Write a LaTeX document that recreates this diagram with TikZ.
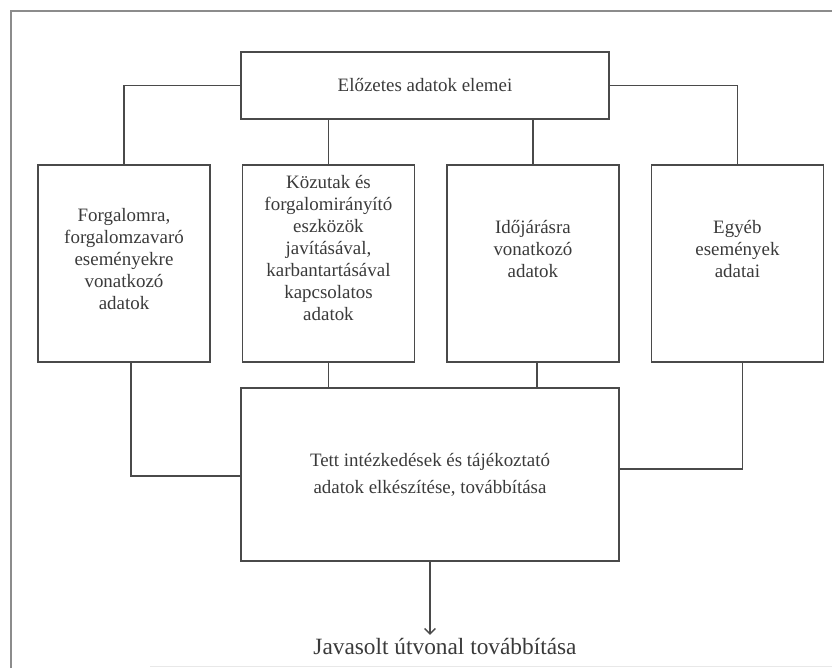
\documentclass[tikz,border=0pt]{standalone}
\usepackage{fontspec}
\setmainfont{Liberation Serif}
\usetikzlibrary{arrows.meta,positioning}
\definecolor{linegray}{HTML}{4A4A4A}
\definecolor{framegray}{HTML}{8C8C8C}
\definecolor{textgray}{HTML}{3A3A3A}
\tikzstyle{databox}=[
	rectangle,
	draw=linegray,
	line width=1.1pt,
	inner sep=0pt,
	minimum width=129pt,
	minimum height=147.75pt,
	node distance=0pt and 23.25pt
]
\tikzstyle{widebox}=[
	rectangle,
	draw=linegray,
	line width=1.1pt,
	align=center,
	text=textgray,
	font=\fontsize{14.2}{20.25}\selectfont
]
\tikzstyle{boxtext}=[
	align=center,
	text=textgray,
	inner sep=0pt,
	font=\fontsize{14.2}{16.5}\selectfont
]
\tikzstyle{link}=[
	draw=linegray,
	line width=1.1pt
]

\begin{document}
\begin{tikzpicture}[x=0.75pt,y=-0.75pt]
\useasboundingbox (0,0) rectangle (832,668);
% frame
\draw[framegray, line width=1.8pt] (11,668) -- (11,11) -- (832,11);
\draw[framegray!20, line width=0.6pt] (150,666.5) -- (832,666.5);

\node [widebox, minimum width=276pt, minimum height=50.25pt] (elozetes) at (425,85.5) {Előzetes adatok elemei};

\node [databox] (forgalom) at (124,263.5) {};
\node [databox] (kozutak)[right=of forgalom] {};
\node [databox] (idojaras)[right=of kozutak] {};
\node [databox] (egyeb)[right=of idojaras] {};

\node [boxtext] (forgalomtxt) at ([yshift=3pt]forgalom.center) {Forgalomra,\\ forgalomzavaró\\ eseményekre\\ vonatkozó\\ adatok};
\node [boxtext] (kozutaktxt) at ([yshift=11.25pt]kozutak.center) {Közutak és\\ forgalomirányító\\ eszközök\\ javításával,\\ karbantartásával\\ kapcsolatos\\ adatok};
\node [boxtext] (idojarastxt) at ([yshift=10.5pt]idojaras.center) {Időjárásra\\ vonatkozó\\ adatok};
\node [boxtext] (egyebtxt) at ([yshift=10.5pt]egyeb.center) {Egyéb\\ események\\ adatai};

\node [widebox, minimum width=283.5pt, minimum height=129.75pt] (intezkedes) at (430,474.5) {Tett intézkedések és tájékoztató\\ adatok elkészítése, továbbítása};

\node [text=textgray, font=\fontsize{17.5}{20}\selectfont, inner sep=2pt] (utvonal) at (445,646) {Javasolt útvonal továbbítása};

% connectors
\draw[link] (elozetes.west) -| (forgalom.north);
\draw[link] (elozetes.east) -| (egyeb.north);
\draw[link] (kozutak.north) -- (kozutak.north |- elozetes.south);
\draw[link] (idojaras.north) -- (idojaras.north |- elozetes.south);
\draw[link] ([xshift=5.25pt]forgalom.south) |- ([yshift=-1pt]intezkedes.west);
\draw[link] (kozutak.south) -- (kozutak.south |- intezkedes.north);
\draw[link] ([xshift=3pt]idojaras.south) -- ([xshift=3pt]idojaras.south |- intezkedes.north);
\draw[link] ([xshift=3.75pt]egyeb.south) |- ([yshift=4pt]intezkedes.east);
\draw[link, -{Straight Barb[length=4pt,width=8pt]}] (intezkedes.south) -- (intezkedes.south |- utvonal.north);
\end{tikzpicture}
\end{document}
